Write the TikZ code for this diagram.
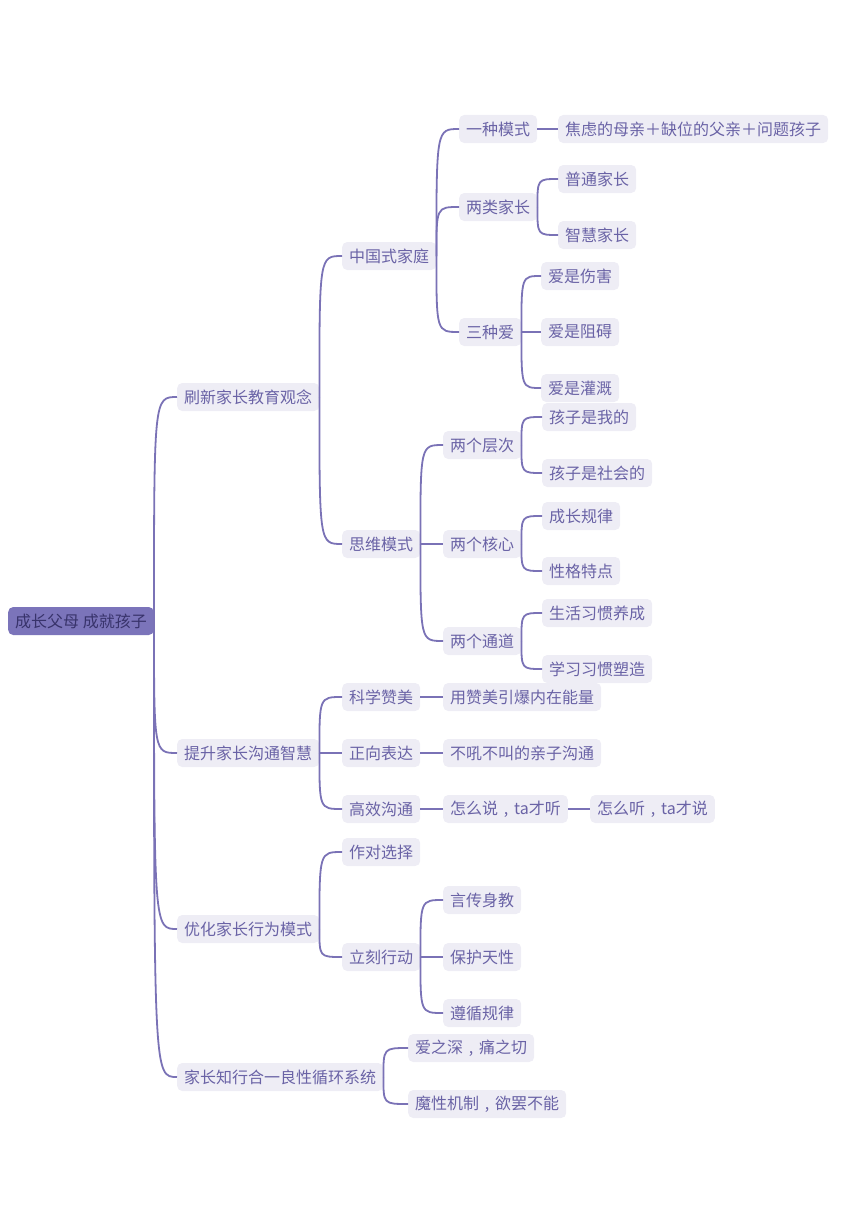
\documentclass[tikz,border=0pt]{standalone}
\usepackage{fontspec}
\setmainfont{Noto Sans CJK SC}
\newcommand{\zhcomma}{\makebox[16pt]{,}}
\definecolor{rootfill}{HTML}{7B74BA}
\definecolor{roottext}{HTML}{38336B}
\definecolor{boxfill}{HTML}{EEEDF5}
\definecolor{boxtext}{HTML}{6A63A6}
\definecolor{linkcol}{HTML}{7A72B6}
\begin{document}
\begin{tikzpicture}[x=1pt, y=-1pt,
    every node/.style={anchor=west, rounded corners=5pt, minimum height=28pt, inner xsep=7pt, inner ysep=0pt, font=\fontsize{16}{17}\selectfont},
    topic/.style={fill=rootfill, text=roottext},
    item/.style={fill=boxfill, text=boxtext},
    link/.style={draw=linkcol, line width=1.8pt}]
  \useasboundingbox (0,0) rectangle (845,1212);

  \node[topic] (root) at (8,621) {成长父母 成就孩子};

  % first level
  \node[item] (a) at (177,397) {刷新家长教育观念};
  \node[item] (b) at (177,753) {提升家长沟通智慧};
  \node[item] (c) at (177,929) {优化家长行为模式};
  \node[item] (d) at (177,1077) {家长知行合一良性循环系统};

  % refresh ideas
  \node[item] (a1) at (342,256) {中国式家庭};
  \node[item] (a2) at (342,544) {思维模式};
  \node[item] (a11) at (459,129) {一种模式};
  \node[item] (a12) at (459,207) {两类家长};
  \node[item] (a13) at (459,332) {三种爱};
  \node[item] (a111) at (558,129) {焦虑的母亲＋缺位的父亲＋问题孩子};
  \node[item] (a121) at (558,179) {普通家长};
  \node[item] (a122) at (558,235) {智慧家长};
  \node[item] (a131) at (541,276) {爱是伤害};
  \node[item] (a132) at (541,332) {爱是阻碍};
  \node[item] (a133) at (541,388) {爱是灌溉};
  \node[item] (a21) at (443,445) {两个层次};
  \node[item] (a22) at (443,544) {两个核心};
  \node[item] (a23) at (443,641) {两个通道};
  \node[item] (a211) at (542,417) {孩子是我的};
  \node[item] (a212) at (542,473) {孩子是社会的};
  \node[item] (a221) at (542,516) {成长规律};
  \node[item] (a222) at (542,571) {性格特点};
  \node[item] (a231) at (542,613) {生活习惯养成};
  \node[item] (a232) at (542,669) {学习习惯塑造};

  % communication
  \node[item] (b1) at (342,697) {科学赞美};
  \node[item] (b2) at (342,753) {正向表达};
  \node[item] (b3) at (342,809) {高效沟通};
  \node[item] (b11) at (443,697) {用赞美引爆内在能量};
  \node[item] (b21) at (443,753) {不吼不叫的亲子沟通};
  \node[item] (b31) at (443,809) {怎么说\zhcomma ta才听};
  \node[item] (b311) at (590,809) {怎么听\zhcomma ta才说};

  % behaviour
  \node[item] (c1) at (342,852) {作对选择};
  \node[item] (c2) at (342,957) {立刻行动};
  \node[item] (c21) at (443,900) {言传身教};
  \node[item] (c22) at (443,957) {保护天性};
  \node[item] (c23) at (443,1013) {遵循规律};

  % cycle
  \node[item] (d1) at (408,1048) {爱之深\zhcomma 痛之切};
  \node[item] (d2) at (408,1104) {魔性机制\zhcomma 欲罢不能};

  \foreach \p/\q in {root/a, root/b, root/c, root/d,
      a/a1, a/a2, a1/a11, a1/a12, a1/a13, a11/a111, a12/a121, a12/a122,
      a13/a131, a13/a132, a13/a133, a2/a21, a2/a22, a2/a23,
      a21/a211, a21/a212, a22/a221, a22/a222, a23/a231, a23/a232,
      b/b1, b/b2, b/b3, b1/b11, b2/b21, b3/b31, b31/b311,
      c/c1, c/c2, c2/c21, c2/c22, c2/c23, d/d1, d/d2}
    \draw[link] (\p.east) .. controls (\p.east |- \q.west) .. (\q.west);
\end{tikzpicture}
\end{document}
